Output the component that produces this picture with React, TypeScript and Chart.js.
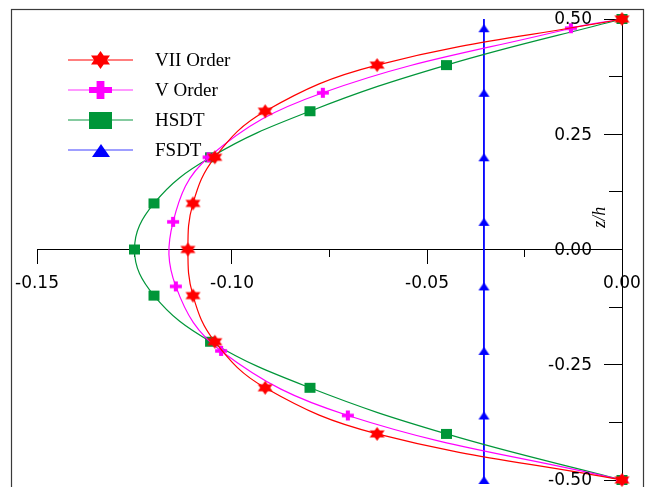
import React, { useEffect, useRef } from 'react';
import { Chart, registerables } from 'chart.js';

Chart.register(...registerables);

// ---- data (x = shear stress value, y = z/h) ----
const zLevels = [0.5, 0.4, 0.3, 0.2, 0.1, 0, -0.1, -0.2, -0.3, -0.4, -0.5];
const viiOrder = [0, -0.0628, -0.0915, -0.1044, -0.110, -0.1113, -0.110, -0.1044, -0.0915, -0.0628, 0];
const hsdt = [0, -0.045, -0.080, -0.1055, -0.120, -0.125, -0.120, -0.1055, -0.080, -0.045, 0];
const zLevelsV = [0.5, 0.48, 0.34, 0.2, 0.06, -0.08, -0.22, -0.36, -0.5];
const vOrder = [0, -0.0131, -0.0767, -0.106, -0.1151, -0.1144, -0.1028, -0.0703, 0];
const fsdt = [-0.0354, -0.0354, -0.0354, -0.0354, -0.0354, -0.0354, -0.0354, -0.0354, -0.0354];
const vMarkerShown = [false, true, true, true, true, true, true, true, true];

const seriesLabels = ['VII Order', 'V Order', 'HSDT', 'FSDT'];
const seriesColors = ['#ff0000', '#ff00ff', '#009639', '#0000ff'];
const legendLineColors = ['#ff0000', '#ff33ff', '#5cba80', '#7f7fff'];

const xMajorTicks = [-0.15, -0.10, -0.05, 0];
const xMinorTicks = [-0.125, -0.075, -0.025];
const yMajorTicks = [-0.5, -0.25, 0, 0.25, 0.5];
const yMinorTicks = [-0.375, -0.125, 0.125, 0.375];
const yTitle = 'z/h';

type Kind = 'star' | 'plus' | 'square' | 'triangle';
const seriesKinds: Kind[] = ['star', 'plus', 'square', 'triangle'];

function makeMarker(kind: Kind, color: string, w: number, h: number): HTMLCanvasElement {
  const c = document.createElement('canvas');
  const W = Math.ceil(w) + 2;
  const H = Math.ceil(h) + 2;
  c.width = W;
  c.height = H;
  const ctx = c.getContext('2d')!;
  ctx.fillStyle = color;
  const cx = W / 2;
  const cy = H / 2;
  ctx.beginPath();
  if (kind === 'star') {
    const rx = w / 2 / Math.cos(Math.PI / 6);
    const ry = h / 2;
    for (let k = 0; k < 12; k++) {
      const a = (-90 + 30 * k) * Math.PI / 180;
      const r = k % 2 === 0 ? 1 : 1 / Math.sqrt(3);
      const px = cx + Math.cos(a) * rx * r;
      const py = cy + Math.sin(a) * ry * r;
      if (k === 0) ctx.moveTo(px, py); else ctx.lineTo(px, py);
    }
    ctx.closePath();
    ctx.fill();
  } else if (kind === 'plus') {
    const tv = w * 0.34;
    const th = h * 0.34;
    ctx.rect(cx - w / 2, cy - th / 2, w, th);
    ctx.rect(cx - tv / 2, cy - h / 2, tv, h);
    ctx.fill();
  } else if (kind === 'square') {
    ctx.rect(cx - w / 2, cy - h / 2, w, h);
    ctx.fill();
  } else {
    ctx.moveTo(cx, cy - h / 2);
    ctx.lineTo(cx + w / 2, cy + h / 2);
    ctx.lineTo(cx - w / 2, cy + h / 2);
    ctx.closePath();
    ctx.fill();
  }
  return c;
}

const plotSizes: Record<Kind, [number, number]> = {
  star: [15, 14],
  plus: [12, 10],
  square: [11, 10],
  triangle: [11, 8],
};
const legendSizes: Record<Kind, [number, number]> = {
  star: [19, 18],
  plus: [23, 18],
  square: [23, 17],
  triangle: [18, 13],
};

const Y_TICK_LEN = 18;
const Y_LABEL_PAD = 12;
const tickFontCss = '17px "DejaVu Sans"';

export default function App() {
  const ref = useRef<HTMLCanvasElement>(null);

  useEffect(() => {
    if (!ref.current) return;
    const plotMarkers = seriesKinds.map((k, i) => makeMarker(k, seriesColors[i], plotSizes[k][0], plotSizes[k][1]));
    const legendMarkers = seriesKinds.map((k, i) => makeMarker(k, seriesColors[i], legendSizes[k][0], legendSizes[k][1]));

    const overlay = {
      id: 'overlay',
      afterDraw(chart: any) {
        const { ctx, chartArea } = chart;
        const xs = chart.scales.x;
        const ys = chart.scales.y;
        const axisX = xs.getPixelForValue(0);
        ctx.save();
        // frame
        ctx.strokeStyle = '#3a3a3a';
        ctx.lineWidth = 1.2;
        ctx.strokeRect(chartArea.left - 25.5, chartArea.top - 9.5, chartArea.right - chartArea.left + 47, 600);
        // y tick labels (left of the y axis which sits at x = 0)
        ctx.font = tickFontCss;
        ctx.fillStyle = '#000';
        ctx.textAlign = 'right';
        ctx.textBaseline = 'middle';
        ys.ticks.forEach((t: any) => {
          ctx.fillText(Number(t.value).toFixed(2), axisX - Y_TICK_LEN - Y_LABEL_PAD, ys.getPixelForValue(t.value) + 1);
        });
        // y title
        ctx.save();
        ctx.translate(axisX - 22, ys.getPixelForValue(0.07));
        ctx.rotate(-Math.PI / 2);
        ctx.font = 'italic 18px "Liberation Serif"';
        ctx.fillStyle = '#000';
        ctx.textAlign = 'center';
        ctx.textBaseline = 'middle';
        ctx.fillText(yTitle, 0, 0);
        ctx.restore();
        // legend
        ctx.font = '19px "Liberation Serif"';
        ctx.textBaseline = 'middle';
        ctx.textAlign = 'left';
        seriesLabels.forEach((label, i) => {
          const yy = chartArea.top + 41 + 30 * i;
          const x0 = chartArea.left + 31;
          const x1 = chartArea.left + 96;
          ctx.strokeStyle = legendLineColors[i];
          ctx.lineWidth = i >= 2 ? 1.6 : 1.2;
          ctx.beginPath();
          ctx.moveTo(x0, yy);
          ctx.lineTo(x1, yy);
          ctx.stroke();
          const m = legendMarkers[i];
          ctx.drawImage(m, Math.round((x0 + x1) / 2 - m.width / 2), Math.round(yy - m.height / 2));
          ctx.fillStyle = '#000';
          ctx.fillText(label, chartArea.left + 118, yy + 1);
        });
        ctx.restore();
      },
    };

    const tickFont = { family: '"DejaVu Sans"', size: 17 };

    const chart = new Chart(ref.current, {
      type: 'line',
      data: {
        datasets: [
          {
            label: seriesLabels[0],
            data: zLevels.map((z, i) => ({ x: viiOrder[i], y: z })),
            borderColor: seriesColors[0],
            backgroundColor: seriesColors[0],
            borderWidth: 1.2,
            tension: 0.4,
            pointStyle: plotMarkers[0],
            pointRadius: 5,
            clip: false,
          },
          {
            label: seriesLabels[1],
            data: zLevelsV.map((z, i) => ({ x: vOrder[i], y: z })),
            borderColor: seriesColors[1],
            backgroundColor: seriesColors[1],
            borderWidth: 1.2,
            tension: 0.4,
            pointStyle: plotMarkers[1],
            pointRadius: vMarkerShown.map((s) => (s ? 5 : 0)),
            clip: false,
          },
          {
            label: seriesLabels[2],
            data: zLevels.map((z, i) => ({ x: hsdt[i], y: z })),
            borderColor: seriesColors[2],
            backgroundColor: seriesColors[2],
            borderWidth: 1.2,
            tension: 0.4,
            pointStyle: plotMarkers[2],
            pointRadius: 5,
            clip: false,
          },
          {
            label: seriesLabels[3],
            data: zLevelsV.map((z, i) => ({ x: fsdt[i], y: z })),
            borderColor: seriesColors[3],
            backgroundColor: seriesColors[3],
            borderWidth: 1.8,
            tension: 0,
            pointStyle: plotMarkers[3],
            pointRadius: vMarkerShown.map((s) => (s ? 5 : 0)),
            clip: false,
          },
        ],
      } as any,
      options: {
        animation: false,
        responsive: false,
        devicePixelRatio: 1,
        events: [],
        layout: { padding: { left: 37, top: 19, right: 35, bottom: 20 } },
        plugins: { legend: { display: false }, tooltip: { enabled: false }, title: { display: false } },
        scales: {
          x: {
            type: 'linear',
            axis: 'x',
            min: -0.15,
            max: 0,
            position: { y: 0 },
            afterFit: (s: any) => { s.height = 0; },
            afterBuildTicks: (s: any) => { s.ticks = xMajorTicks.map((v) => ({ value: v })); },
            grid: { drawOnChartArea: false, drawTicks: true, tickLength: 14, tickColor: '#000', tickWidth: 1 },
            border: { display: true, color: '#000', width: 1 },
            ticks: { callback: (v: any) => Number(v).toFixed(2), font: tickFont, color: '#000', padding: 10, maxRotation: 0, autoSkip: false },
          },
          x2: {
            type: 'linear',
            axis: 'x',
            min: -0.15,
            max: 0,
            position: { y: 0 },
            afterFit: (s: any) => { s.height = 0; },
            afterBuildTicks: (s: any) => { s.ticks = xMinorTicks.map((v) => ({ value: v })); },
            grid: { drawOnChartArea: false, drawTicks: true, tickLength: 7, tickColor: '#000', tickWidth: 1 },
            border: { display: false },
            ticks: { display: false },
          },
          y: {
            type: 'linear',
            axis: 'y',
            min: -0.5,
            max: 0.5,
            position: { x: 0 },
            afterFit: (s: any) => { s.width = 0; },
            afterBuildTicks: (s: any) => { s.ticks = yMajorTicks.map((v) => ({ value: v })); },
            grid: { drawOnChartArea: false, drawTicks: true, tickLength: Y_TICK_LEN, tickColor: '#000', tickWidth: 1 },
            border: { display: true, color: '#000', width: 1 },
            ticks: { display: false },
          },
          y2: {
            type: 'linear',
            axis: 'y',
            min: -0.5,
            max: 0.5,
            position: { x: 0 },
            afterFit: (s: any) => { s.width = 0; },
            afterBuildTicks: (s: any) => { s.ticks = yMinorTicks.map((v) => ({ value: v })); },
            grid: { drawOnChartArea: false, drawTicks: true, tickLength: 13, tickColor: '#000', tickWidth: 1 },
            border: { display: false },
            ticks: { display: false },
          },
        },
      } as any,
      plugins: [overlay],
    });
    return () => chart.destroy();
  }, []);

  return (
    <div style={{ position: 'fixed', left: 0, top: 0, width: 657, height: 500, background: '#fff' }}>
      <canvas ref={ref} width={657} height={500} style={{ display: 'block' }} />
    </div>
  );
}
